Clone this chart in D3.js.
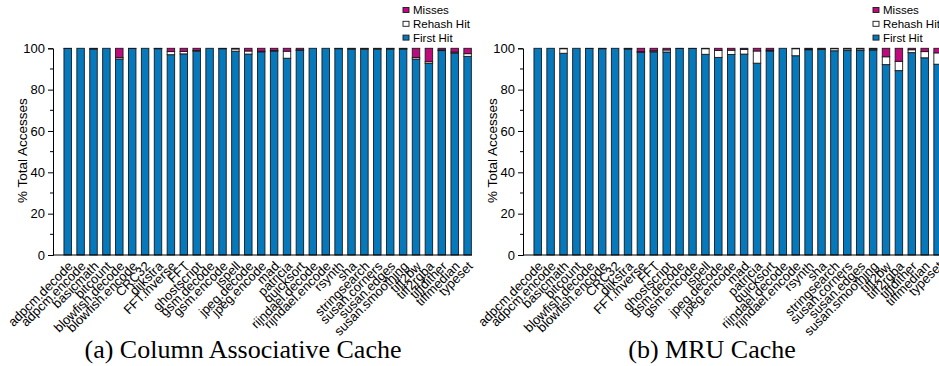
<!DOCTYPE html>
<html>
<head>
<meta charset="utf-8">
<script src="https://cdn.jsdelivr.net/npm/d3@7"></script>
<style>
  body { margin: 0; background: #fff; }
  svg { display: block; }
  text { font-family: "Liberation Sans", Arial, sans-serif; fill: #000; }
</style>
</head>
<body>
<script>
const benchmarks = ["adpcm.decode", "adpcm.encode", "basicmath", "bitcount", "blowfish.decode",
  "blowfish.encode", "CRC32", "dijkstra", "FFT.inverse", "FFT", "ghostscript", "gsm.decode",
  "gsm.encode", "ispell", "jpeg.decode", "jpeg.encode", "mad", "patricia", "quicksort",
  "rijndael.decode", "rijndael.encode", "rsynth", "sha", "stringsearch", "susan.corners",
  "susan.edges", "susan.smoothing", "tiff2bw", "tiff2rgba", "tiffdither", "tiffmedian", "typeset"];

// (a) column associative cache
const caFirst = [99.9, 100, 99.7, 100, 94.8, 99.9, 100, 99.8, 96.9, 97.3, 98.6, 100, 99.8, 98.6, 97.2, 98.3,
  98.7, 95.2, 99.0, 100, 100, 99.8, 99.7, 99.6, 99.6, 99.7, 99.7, 94.8, 92.7, 98.9, 97.7, 96.1];
const caRehash = [0, 0, 0.1, 0, 0.7, 0, 0, 0.1, 1.5, 1.2, 0.3, 0, 0.1, 1.1, 1.5, 0.3,
  0.2, 3.4, 0.2, 0, 0, 0.1, 0.1, 0.2, 0.2, 0.1, 0.1, 0.8, 0.8, 0.3, 0.5, 1.3];
const caMiss = [0.1, 0, 0.2, 0, 4.5, 0.1, 0, 0.1, 1.6, 1.5, 1.1, 0, 0.1, 0.3, 1.3, 1.4,
  1.1, 1.4, 0.8, 0, 0, 0.1, 0.2, 0.2, 0.2, 0.2, 0.2, 4.4, 6.5, 0.8, 1.8, 2.6];

// (b) MRU cache
const mruFirst = [100, 100, 97.6, 100, 99.9, 99.8, 100, 99.7, 98.0, 98.3, 98.2, 99.9, 99.9, 97.1, 95.6, 97.0,
  97.2, 92.8, 98.7, 100, 96.4, 99.3, 99.4, 98.8, 98.9, 98.9, 99.2, 92.1, 89.2, 97.9, 95.4, 92.3];
const mruRehash = [0, 0, 2.2, 0, 0, 0.1, 0, 0.1, 0.4, 0.5, 1.0, 0, 0, 2.7, 3.4, 2.1,
  2.3, 5.9, 0.4, 0, 3.4, 0.3, 0.3, 1.0, 0.8, 0.8, 0.5, 3.8, 4.5, 1.4, 3.0, 5.5];
const mruMiss = [0, 0, 0.2, 0, 0.1, 0.1, 0, 0.2, 1.6, 1.2, 0.8, 0.1, 0.1, 0.2, 1.0, 0.9,
  0.5, 1.3, 0.9, 0, 0.2, 0.4, 0.3, 0.2, 0.3, 0.3, 0.3, 4.1, 6.3, 0.7, 1.6, 2.2];

const yTicks = [0, 20, 40, 60, 80, 100];
const yMinorTicks = [10, 30, 50, 70, 90];
const seriesKeys = ["first", "rehash", "miss"];
const legendLabels = ["Misses", "Rehash Hit", "First Hit"];
const colors = { first: "#0679bd", rehash: "#ffffff", miss: "#bf0a7e" };

const W = 939, H = 366;
const svg = d3.select("body").append("svg").attr("width", W).attr("height", H);

const yScale = d3.scaleLinear().domain([0, 100]).range([255, 48.3]);

const drawPanel = (ox, first, rehash, miss, caption, captionX) => {
  const g = svg.append("g").attr("transform", "translate(" + ox + ",0)");
  const axisX = 53;

  const rows = benchmarks.map((b, i) => ({ name: b, first: first[i], rehash: rehash[i], miss: miss[i] }));
  const stacked = d3.stack().keys(seriesKeys)(rows);

  const xScale = d3.scaleBand()
    .domain(benchmarks)
    .range([61.25, 61.25 + 12.9 * benchmarks.length])
    .paddingInner(0.42)
    .paddingOuter(0.21);

  // bars
  g.selectAll("g.layer")
    .data(stacked)
    .enter()
    .append("g")
    .attr("class", "layer")
    .attr("fill", (d) => colors[d.key])
    .selectAll("rect")
    .data((d) => d)
    .enter()
    .append("rect")
    .filter((d) => d[1] - d[0] > 0)
    .attr("x", (d) => xScale(d.data.name))
    .attr("width", xScale.bandwidth())
    .attr("y", (d) => yScale(d[1]))
    .attr("height", (d) => yScale(d[0]) - yScale(d[1]))
    .attr("stroke", "#1a1a1a")
    .attr("stroke-width", 0.9);

  // y axis
  const yAxis = d3.axisLeft(yScale).tickValues(yTicks).tickSize(5).tickPadding(3);
  const ya = g.append("g").attr("transform", "translate(" + axisX + ",0)").call(yAxis);
  ya.select(".domain").attr("stroke", "#000");
  ya.selectAll("text").style("font-size", "13px").attr("font-family", null);
  g.selectAll("line.minor")
    .data(yMinorTicks)
    .enter()
    .append("line")
    .attr("class", "minor")
    .attr("x1", axisX - 3)
    .attr("x2", axisX)
    .attr("y1", (d) => yScale(d))
    .attr("y2", (d) => yScale(d))
    .attr("stroke", "#000");

  // x axis
  const xAxis = d3.axisBottom(xScale).tickSize(0).tickPadding(0);
  const xa = g.append("g").attr("transform", "translate(0," + yScale(0) + ")").call(xAxis);
  xa.select(".domain").remove();
  xa.selectAll("text")
    .attr("font-family", null)
    .style("font-size", "13px")
    .attr("text-anchor", "end")
    .attr("y", 0)
    .attr("dy", 0)
    .attr("transform", "translate(6,12) rotate(-45)");
  g.append("line")
    .attr("x1", axisX)
    .attr("x2", 472)
    .attr("y1", yScale(0))
    .attr("y2", yScale(0))
    .attr("stroke", "#000");

  // y label
  g.append("text")
    .attr("transform", "translate(27," + (yScale(50) - 1) + ") rotate(-90)")
    .attr("text-anchor", "middle")
    .style("font-size", "13.5px")
    .text("% Total Accesses");

  // legend
  const legendKeys = ["miss", "rehash", "first"];
  const lg = g.append("g").attr("transform", "translate(403,0)");
  legendLabels.forEach((lab, i) => {
    const cy = 10 + i * 13.8;
    lg.append("rect")
      .attr("x", 0)
      .attr("y", cy - 2.5)
      .attr("width", 6)
      .attr("height", 5)
      .attr("fill", colors[legendKeys[i]])
      .attr("stroke", "#1a1a1a")
      .attr("stroke-width", 0.9);
    lg.append("text")
      .attr("x", 10)
      .attr("y", cy + 4)
      .style("font-size", "11.5px")
      .text(lab);
  });

  // caption
  svg.append("text")
    .attr("x", captionX)
    .attr("y", 358)
    .attr("text-anchor", "middle")
    .style("font-family", "'Liberation Serif', 'DejaVu Serif', serif")
    .style("font-size", "26px")
    .text(caption);
};

drawPanel(0, caFirst, caRehash, caMiss, "(a) Column Associative Cache", 243);
drawPanel(470, mruFirst, mruRehash, mruMiss, "(b) MRU Cache", 712);
</script>
</body>
</html>
